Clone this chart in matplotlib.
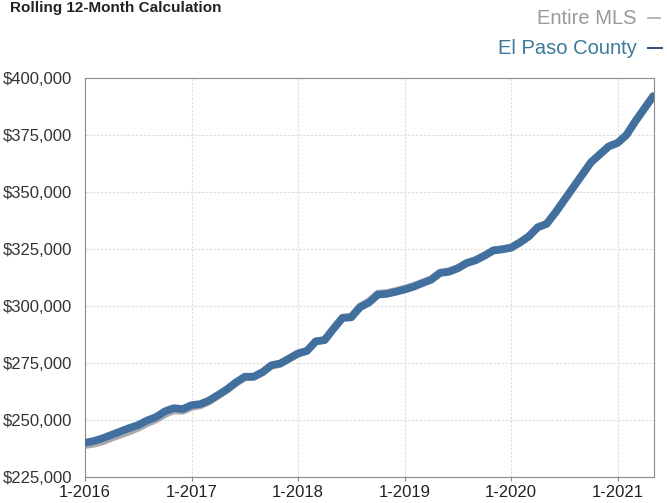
import matplotlib
matplotlib.use("Agg")
import matplotlib.pyplot as plt
from matplotlib.ticker import FuncFormatter

plt.rcParams['font.family'] = ['Liberation Sans', 'DejaVu Sans']

# Monthly rolling 12-month median price, Jan 2016 .. May 2021 (thousands of $)
el_paso = [240.0, 240.8, 242.0, 243.5, 245.0, 246.5, 247.8, 249.8, 251.3, 253.8,
           255.2, 254.8, 256.5, 257.0, 258.6, 261.0, 263.5, 266.5, 269.0, 269.0,
           271.0, 274.0, 274.8, 277.0, 279.2, 280.3, 284.5, 285.0, 290.0, 294.7,
           295.0, 299.5, 301.5, 305.0, 305.3, 306.2, 307.2, 308.4, 310.0, 311.5,
           314.5, 315.0, 316.5, 318.8, 320.0, 322.0, 324.3, 324.8, 325.5, 327.8,
           330.5, 334.5, 336.0, 341.0, 346.5, 352.0, 357.5, 363.0, 366.5, 370.0,
           371.5, 375.0, 381.0, 386.5, 392.0]
entire_mls = [239.0, 239.6, 240.6, 242.2, 243.6, 245.0, 246.6, 248.6, 250.2, 252.6,
              254.2, 254.0, 255.7, 256.4, 258.2, 260.7, 263.2, 266.2, 268.7, 268.8,
              270.8, 273.8, 274.6, 276.8, 279.0, 280.3, 284.4, 285.2, 290.2, 294.9,
              295.4, 299.8, 302.0, 305.4, 305.7, 306.6, 307.6, 308.8, 310.2, 311.7,
              314.6, 315.2, 316.7, 318.9, 320.2, 322.2, 324.5, 325.0, 325.7, 328.0,
              330.6, 334.5, 336.0, 341.0, 346.5, 352.0, 357.5, 363.0, 366.5, 370.0,
              371.5, 375.0, 381.0, 386.5, 392.0]
year_labels = ["1-2016", "1-2017", "1-2018", "1-2019", "1-2020", "1-2021"]
y_ticks = [225, 250, 275, 300, 325, 350, 375, 400]

months = list(range(len(el_paso)))

fig = plt.figure(figsize=(6.67, 5.03), dpi=100)
ax = fig.add_axes([0.1274, 0.0517, 0.8531, 0.7933])

ax.plot(months, entire_mls, color="#a9a9ad", lw=5.5, solid_capstyle="round", zorder=2)
ax.plot(months, el_paso, color="#41709f", lw=5.5, solid_capstyle="round", zorder=3)

ax.set_xlim(0, 64.1)
ax.set_ylim(225, 400)
ax.set_xticks([12 * i for i in range(len(year_labels))])
ax.set_xticklabels(year_labels)
ax.set_yticks(y_ticks)
ax.yaxis.set_major_formatter(FuncFormatter(lambda v, p: "${:,.0f}".format(v * 1000)))

ax.grid(True, color="#dcdcdc", lw=0.8, ls=(0, (2, 1.5)))
ax.set_axisbelow(True)
for s in ax.spines.values():
    s.set_color("#8a8a8a")
    s.set_linewidth(0.8)
ax.tick_params(axis="x", length=3, color="#8a8a8a", labelsize=12, labelcolor="#222222", pad=3)
ax.tick_params(axis="y", length=0, labelsize=12, labelcolor="#333333", pad=9)

fig.text(0.015, 1 - 1 / 503, "Rolling 12-Month Calculation", fontsize=11, fontweight="bold",
         color="#222222", ha="left", va="top")

fig.text(0.955, 1 - 18 / 503, "Entire MLS", fontsize=14.5, color="#9a9a9a",
         ha="right", va="center")
fig.text(0.955, 1 - 48 / 503, "El Paso County", fontsize=14.5, color="#3b7a9a",
         ha="right", va="center")
fig.add_artist(plt.Line2D([0.972, 0.99], [1 - 18 / 503] * 2, transform=fig.transFigure,
                          color="#a9a9ad", lw=1.2))
fig.add_artist(plt.Line2D([0.972, 0.993], [1 - 48 / 503] * 2, transform=fig.transFigure,
                          color="#2f4f6f", lw=1.4))

fig.savefig("out.png", dpi=100)
